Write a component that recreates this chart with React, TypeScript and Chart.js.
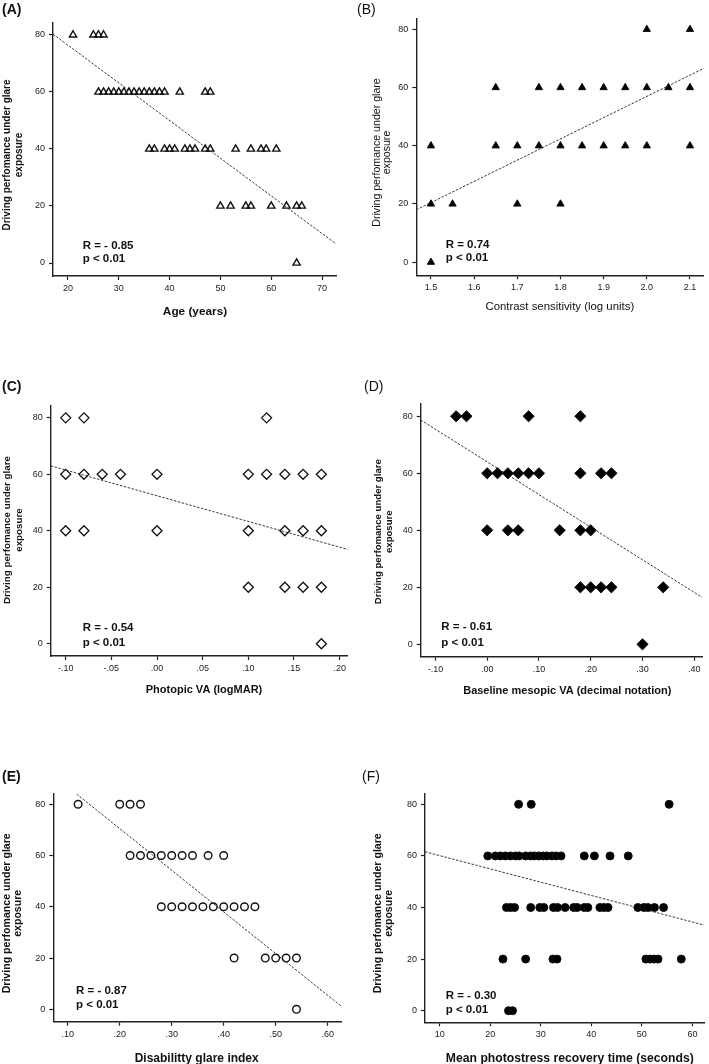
import React, { useEffect, useRef } from 'react';
import { Chart, registerables } from 'chart.js';
Chart.register(...registerables);

const FONT = "'Liberation Sans', Arial, Helvetica, sans-serif";

// shared y axis
const scoreTicks = [0, 20, 40, 60, 80];
const scoreTickLabels = ['0', '20', '40', '60', '80'];

// (A) Age
const ageX = [21, 25, 26, 27,
  26, 27, 28, 29, 30, 31, 32, 33, 34, 35, 36, 37, 38, 39, 42, 47, 48,
  36, 37, 39, 40, 41, 43, 44, 45, 47, 48, 53, 56, 58, 59, 61,
  50, 52, 55, 56, 60, 63, 65, 66,
  65];
const ageY = [80, 80, 80, 80,
  60, 60, 60, 60, 60, 60, 60, 60, 60, 60, 60, 60, 60, 60, 60, 60, 60,
  40, 40, 40, 40, 40, 40, 40, 40, 40, 40, 40, 40, 40, 40, 40,
  20, 20, 20, 20, 20, 20, 20, 20,
  0];
const ageTicks = [20, 30, 40, 50, 60, 70];
const ageTickLabels = ['20', '30', '40', '50', '60', '70'];
const ageFit = [[17.05, 80.3], [72.75, 6.7]];

// (B) Contrast sensitivity
const csX = [1.5, 1.5, 1.5, 1.55, 1.65, 1.65, 1.7, 1.7, 1.75, 1.75, 1.8, 1.8, 1.8, 1.85, 1.85, 1.9, 1.9, 1.95, 1.95, 2.0, 2.0, 2.0, 2.05, 2.1, 2.1, 2.1];
const csY = [40, 20, 0, 20, 60, 40, 40, 20, 60, 40, 60, 40, 20, 60, 40, 60, 40, 60, 40, 80, 60, 40, 60, 80, 60, 40];
const csTicks = [1.5, 1.6, 1.7, 1.8, 1.9, 2.0, 2.1];
const csTickLabels = ['1.5', '1.6', '1.7', '1.8', '1.9', '2.0', '2.1'];
const csFit = [[1.466, 18], [2.132, 66.6]];

// (C) Photopic VA
const phX = [-0.1, -0.08, 0.12,
  -0.1, -0.08, -0.06, -0.04, 0.0, 0.1, 0.12, 0.14, 0.16, 0.18,
  -0.1, -0.08, 0.0, 0.1, 0.14, 0.16, 0.18,
  0.1, 0.14, 0.16, 0.18,
  0.18];
const phY = [80, 80, 80,
  60, 60, 60, 60, 60, 60, 60, 60, 60, 60,
  40, 40, 40, 40, 40, 40, 40,
  20, 20, 20, 20,
  0];
const phTicks = [-0.1, -0.05, 0, 0.05, 0.1, 0.15, 0.2];
const phTickLabels = ['-.10', '-.05', '.00', '.05', '.10', '.15', '.20'];
const phFit = [[-0.1164, 63], [0.2088, 33.4]];

// (D) Baseline mesopic VA
const meX = [-0.06, -0.04, 0.08, 0.18,
  0.0, 0.02, 0.04, 0.06, 0.08, 0.1, 0.18, 0.22, 0.24,
  0.0, 0.04, 0.06, 0.14, 0.18, 0.2,
  0.18, 0.2, 0.22, 0.24, 0.34,
  0.3];
const meY = [80, 80, 80, 80,
  60, 60, 60, 60, 60, 60, 60, 60, 60,
  40, 40, 40, 40, 40, 40,
  20, 20, 20, 20, 20,
  0];
const meTicks = [-0.1, 0, 0.1, 0.2, 0.3, 0.4];
const meTickLabels = ['-.10', '.00', '.10', '.20', '.30', '.40'];
const meFit = [[-0.1284, 78.7], [0.4157, 16.4]];

// (E) Disability glare index
const dgX = [0.12, 0.2, 0.22, 0.24,
  0.22, 0.24, 0.26, 0.28, 0.3, 0.32, 0.34, 0.37, 0.4,
  0.28, 0.3, 0.32, 0.34, 0.36, 0.38, 0.4, 0.42, 0.44, 0.46,
  0.42, 0.48, 0.5, 0.52, 0.54,
  0.54];
const dgY = [80, 80, 80, 80,
  60, 60, 60, 60, 60, 60, 60, 60, 60,
  40, 40, 40, 40, 40, 40, 40, 40, 40, 40,
  20, 20, 20, 20, 20,
  0];
const dgTicks = [0.1, 0.2, 0.3, 0.4, 0.5, 0.6];
const dgTickLabels = ['.10', '.20', '.30', '.40', '.50', '.60'];
const dgFit = [[0.117, 84], [0.6256, 1.3]];

// (F) Photostress recovery time
const prX = [25.6, 28.1, 55.4,
  19.5, 21, 22, 23, 24, 25, 25.7, 27, 28, 28.7, 29.6, 30.5, 31.2, 32.2, 33, 34, 38.6, 40.6, 43.7, 47.3,
  23.2, 24, 24.8, 28, 29.8, 30.6, 32.5, 33.3, 34.8, 36.5, 37.2, 38.6, 39.3, 41.7, 42.5, 43.3, 49.2, 50.4, 51.2, 52.5, 54.3,
  22.5, 27, 32.4, 33.2, 50.8, 51.6, 52.4, 53.2, 57.8,
  23.6, 24.4];
const prY = [80, 80, 80,
  60, 60, 60, 60, 60, 60, 60, 60, 60, 60, 60, 60, 60, 60, 60, 60, 60, 60, 60, 60,
  40, 40, 40, 40, 40, 40, 40, 40, 40, 40, 40, 40, 40, 40, 40, 40, 40, 40, 40, 40, 40,
  20, 20, 20, 20, 20, 20, 20, 20, 20,
  0, 0];
const prTicks = [10, 20, 30, 40, 50, 60];
const prTickLabels = ['10', '20', '30', '40', '50', '60'];
const prFit = [[7.07, 61.6], [62.3, 33.2]];

const yTitle1 = 'Driving perfomance under glare';
const yTitle2 = 'exposure';

type Panel = {
  key: string;
  box: [number, number, number, number];
  area: { left: number; top: number; right: number; bottom: number };
  xr: [number, number];
  yr: [number, number];
  xs: number[]; ys: number[];
  xTicks: number[]; xLabels: string[];
  fit: number[][];
  marker: { style: string; r: number; fill: string; bw: number };
  label: { text: string; x: number; y: number; bold: boolean };
  xTitle: { text: string; x: number; y: number; size: number; bold: boolean };
  yTitle: { x1: number; x2: number; cy: number; size: number; bold: boolean };
  stats: { l1: string; l2: string; x: number; y1: number; y2: number };
};

const panels: Panel[] = [
  {
    key: 'A', box: [0, 0, 354, 340],
    area: { left: 53, top: 23, right: 336, bottom: 276 },
    xr: [17.05, 72.75], yr: [-4.56, 84.2],
    xs: ageX, ys: ageY, xTicks: ageTicks, xLabels: ageTickLabels, fit: ageFit,
    marker: { style: 'triangle', r: 4.2, fill: 'rgba(0,0,0,0)', bw: 1.4 },
    label: { text: '(A)', x: 2, y: 10, bold: true },
    xTitle: { text: 'Age (years)', x: 195, y: 312, size: 11.8, bold: true },
    yTitle: { x1: 7.5, x2: 19.5, cy: 155, size: 10, bold: true },
    stats: { l1: 'R = - 0.85', l2: 'p < 0.01', x: 82.7, y1: 245.7, y2: 259.3 },
  },
  {
    key: 'B', box: [354, 0, 355, 340],
    area: { left: 62.3, top: 18.3, right: 350, bottom: 275.3 },
    xr: [1.466, 2.132], yr: [-4.5, 83.8],
    xs: csX, ys: csY, xTicks: csTicks, xLabels: csTickLabels, fit: csFit,
    marker: { style: 'triangle', r: 4.2, fill: '#000', bw: 1 },
    label: { text: '(B)', x: 3, y: 10, bold: false },
    xTitle: { text: 'Contrast sensitivity (log units)', x: 205.8, y: 306.7, size: 11.4, bold: false },
    yTitle: { x1: 22.7, x2: 33, cy: 152.5, size: 10.6, bold: false },
    stats: { l1: 'R = 0.74', l2: 'p < 0.01', x: 91.7, y1: 245, y2: 258.3 },
  },
  {
    key: 'C', box: [0, 340, 354, 360],
    area: { left: 50.7, top: 65.7, right: 348, bottom: 316 },
    xr: [-0.1164, 0.2088], yr: [-4.35, 84.3],
    xs: phX, ys: phY, xTicks: phTicks, xLabels: phTickLabels, fit: phFit,
    marker: { style: 'rectRot', r: 5, fill: 'rgba(0,0,0,0)', bw: 1.3 },
    label: { text: '(C)', x: 2, y: 47, bold: true },
    xTitle: { text: 'Photopic VA (logMAR)', x: 204, y: 350, size: 11, bold: true },
    yTitle: { x1: 7.5, x2: 19, cy: 190, size: 9.8, bold: true },
    stats: { l1: 'R = - 0.54', l2: 'p < 0.01', x: 82.7, y1: 288.3, y2: 303.3 },
  },
  {
    key: 'D', box: [354, 340, 355, 360],
    area: { left: 66.7, top: 64, right: 354, bottom: 316.7 },
    xr: [-0.1284, 0.4157], yr: [-4.35, 84.3],
    xs: meX, ys: meY, xTicks: meTicks, xLabels: meTickLabels, fit: meFit,
    marker: { style: 'rectRot', r: 5.6, fill: '#000', bw: 1 },
    label: { text: '(D)', x: 10, y: 47, bold: false },
    xTitle: { text: 'Baseline mesopic VA (decimal notation)', x: 213.3, y: 350.7, size: 11, bold: true },
    yTitle: { x1: 24, x2: 35, cy: 191.7, size: 9.6, bold: true },
    stats: { l1: 'R = - 0.61', l2: 'p < 0.01', x: 87.3, y1: 287.3, y2: 303.3 },
  },
  {
    key: 'E', box: [0, 700, 354, 364],
    area: { left: 53.3, top: 94, right: 341, bottom: 321.7 },
    xr: [0.0723, 0.6256], yr: [-4.84, 84],
    xs: dgX, ys: dgY, xTicks: dgTicks, xLabels: dgTickLabels, fit: dgFit,
    marker: { style: 'circle', r: 3.8, fill: 'rgba(0,0,0,0)', bw: 1.4 },
    label: { text: '(E)', x: 2, y: 77.5, bold: true },
    xTitle: { text: 'Disabilitty glare index', x: 196.7, y: 358.3, size: 12, bold: true },
    yTitle: { x1: 7, x2: 18.5, cy: 213.3, size: 10.6, bold: true },
    stats: { l1: 'R = - 0.87', l2: 'p < 0.01', x: 76, y1: 290.7, y2: 305 },
  },
  {
    key: 'F', box: [354, 700, 355, 364],
    area: { left: 71, top: 94, right: 354, bottom: 322.3 },
    xr: [7.07, 62.3], yr: [-4.5, 84],
    xs: prX, ys: prY, xTicks: prTicks, xLabels: prTickLabels, fit: prFit,
    marker: { style: 'circle', r: 4, fill: '#000', bw: 1 },
    label: { text: '(F)', x: 8, y: 77.5, bold: false },
    xTitle: { text: 'Mean photostress recovery time (seconds)', x: 215.8, y: 358.3, size: 12.2, bold: true },
    yTitle: { x1: 24, x2: 35, cy: 213.3, size: 10.6, bold: true },
    stats: { l1: 'R = - 0.30', l2: 'p < 0.01', x: 91.7, y1: 295.7, y2: 310 },
  },
];

function labelFor(values: number[], labels: string[], v: number) {
  const i = values.findIndex((t) => Math.abs(t - v) < 1e-9);
  return i >= 0 ? labels[i] : '';
}

function textPlugin(p: Panel) {
  return {
    id: 'texts' + p.key,
    afterDraw(chart: any) {
      const ctx = chart.ctx as CanvasRenderingContext2D;
      ctx.save();
      ctx.fillStyle = '#111';
      ctx.textBaseline = 'middle';
      // panel label
      ctx.textAlign = 'left';
      ctx.font = `${p.label.bold ? 'bold ' : ''}14px ${FONT}`;
      ctx.fillText(p.label.text, p.label.x, p.label.y);
      // x title
      ctx.textAlign = 'center';
      ctx.font = `${p.xTitle.bold ? 'bold ' : ''}${p.xTitle.size}px ${FONT}`;
      ctx.fillText(p.xTitle.text, p.xTitle.x, p.xTitle.y);
      // y title
      ctx.font = `${p.yTitle.bold ? 'bold ' : ''}${p.yTitle.size}px ${FONT}`;
      ctx.save();
      ctx.translate(p.yTitle.x1, p.yTitle.cy);
      ctx.rotate(-Math.PI / 2);
      ctx.fillText(yTitle1, 0, 0);
      ctx.restore();
      ctx.save();
      ctx.translate(p.yTitle.x2, p.yTitle.cy);
      ctx.rotate(-Math.PI / 2);
      ctx.fillText(yTitle2, 0, 0);
      ctx.restore();
      // stats
      ctx.textAlign = 'left';
      ctx.font = `bold 11.5px ${FONT}`;
      ctx.fillText(p.stats.l1, p.stats.x, p.stats.y1);
      ctx.fillText(p.stats.l2, p.stats.x, p.stats.y2);
      ctx.restore();
    },
  };
}

function makeConfig(p: Panel): any {
  const w = p.box[2];
  const h = p.box[3];
  const axisColor = '#222';
  return {
    type: 'scatter',
    data: {
      datasets: [
        {
          data: p.xs.map((x, i) => ({ x, y: p.ys[i] })),
          pointStyle: p.marker.style,
          pointRadius: p.marker.r,
          pointHoverRadius: p.marker.r,
          pointBackgroundColor: p.marker.fill,
          pointBorderColor: '#111',
          pointBorderWidth: p.marker.bw,
          clip: 8,
        },
        {
          type: 'line',
          data: p.fit.map(([x, y]) => ({ x, y })),
          borderColor: '#3a3a3a',
          borderWidth: 1,
          borderDash: [2.5, 1.5],
          pointRadius: 0,
          fill: false,
          tension: 0,
          clip: 0,
        },
      ],
    },
    options: {
      animation: false,
      responsive: false,
      events: [],
      layout: { padding: { top: p.area.top, right: w - p.area.right, left: 0, bottom: 0 } },
      plugins: { legend: { display: false }, tooltip: { enabled: false } },
      scales: {
        x: {
          type: 'linear',
          bounds: 'data',
          min: p.xr[0],
          max: p.xr[1],
          afterBuildTicks: (s: any) => { s.ticks = p.xTicks.map((v) => ({ value: v })); },
          afterFit: (s: any) => { s.height = h - p.area.bottom; s.paddingLeft = 0; s.paddingRight = 0; },
          ticks: {
            callback: (v: number) => labelFor(p.xTicks, p.xLabels, v),
            font: { family: FONT, size: 9 },
            color: '#222',
            padding: 3,
            maxRotation: 0,
            autoSkip: false,
          },
          grid: { display: true, drawOnChartArea: false, drawTicks: true, tickLength: 4, tickColor: axisColor, tickWidth: 1.2 },
          border: { display: true, color: axisColor, width: 1.4 },
        },
        y: {
          type: 'linear',
          bounds: 'data',
          min: p.yr[0],
          max: p.yr[1],
          afterBuildTicks: (s: any) => { s.ticks = scoreTicks.map((v) => ({ value: v })); },
          afterFit: (s: any) => { s.width = p.area.left; s.paddingTop = 0; s.paddingBottom = 0; },
          ticks: {
            callback: (v: number) => labelFor(scoreTicks, scoreTickLabels, v),
            font: { family: FONT, size: 9 },
            color: '#222',
            padding: 4,
            autoSkip: false,
          },
          grid: { display: true, drawOnChartArea: false, drawTicks: true, tickLength: 4, tickColor: axisColor, tickWidth: 1.2 },
          border: { display: true, color: axisColor, width: 1.4 },
        },
      },
    },
    plugins: [textPlugin(p)],
  };
}

function PanelChart({ p }: { p: Panel }) {
  const ref = useRef<HTMLCanvasElement | null>(null);
  useEffect(() => {
    if (!ref.current) return;
    const chart = new Chart(ref.current, makeConfig(p));
    return () => chart.destroy();
  }, [p]);
  return (
    <canvas
      ref={ref}
      width={p.box[2]}
      height={p.box[3]}
      style={{ position: 'absolute', left: p.box[0], top: p.box[1], width: p.box[2], height: p.box[3] }}
    />
  );
}

export default function App() {
  return (
    <div style={{ position: 'absolute', left: 0, top: 0, width: 709, height: 1064, background: '#fff', overflow: 'hidden' }}>
      {panels.map((p) => (
        <PanelChart key={p.key} p={p} />
      ))}
    </div>
  );
}
